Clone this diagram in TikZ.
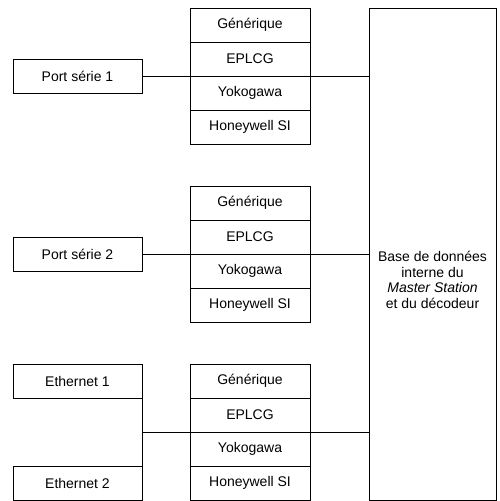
\documentclass[tikz,border=0pt]{standalone}
\usepackage{fontspec}
\setmainfont{Liberation Sans}
\usetikzlibrary{positioning}

\begin{document}
\begin{tikzpicture}[
    x=1pt, y=-1pt,
    line width=0.8pt,
    every node/.style={font=\fontsize{14}{15.5}\selectfont},
    cell/.style={draw, minimum width=120pt, minimum height=34pt,
      inner sep=0pt, outer sep=0pt, anchor=north west},
    port/.style={draw, minimum width=129pt, minimum height=34pt,
      inner sep=0pt, outer sep=0pt},
  ]
  \useasboundingbox (0,0) rectangle (500,501);

  % piles de protocoles
  \foreach \i/\y in {1/8, 2/186, 3/364} {
    \node[cell] (gen\i) at (190,\y) {Générique};
    \node[cell, below=0pt of gen\i] (eplcg\i) {EPLCG};
    \node[cell, below=0pt of eplcg\i] (yoko\i) {Yokogawa};
    \node[cell, below=0pt of yoko\i] (honey\i) {Honeywell SI};
  }

  % base de donnees
  \node[draw, minimum width=127pt, minimum height=492pt,
    inner sep=0pt, outer sep=0pt] (base) at (432.5,254) {};
  \node[align=center] (dbtext) at ([yshift=-26pt]base.center)
    {Base de données\\interne du\\\textit{Master Station}\\et du décodeur};

  % ports
  \node[port] (port1) at (77.5,76) {Port série 1};
  \node[port] (port2) at (77.5,254) {Port série 2};
  \node[port] (eth1) at (77.5,381) {Ethernet 1};
  \node[port] (eth2) at (77.5,483) {Ethernet 2};

  \draw (port1.east) -- (base.west |- port1.east);
  \draw (port2.east) -- (base.west |- port2.east);
  \draw (eth1.south east) -- (eth2.north east);
  \draw (eth1.south east |- yoko3.north) -- (base.west |- yoko3.north);
\end{tikzpicture}
\end{document}
